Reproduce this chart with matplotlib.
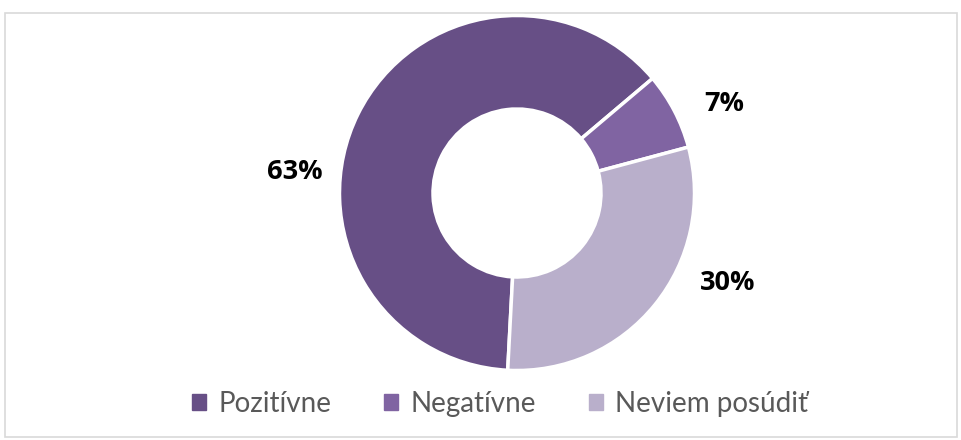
import matplotlib
matplotlib.use("Agg")
import matplotlib.pyplot as plt
from matplotlib.patches import Rectangle

categories = ["Pozitívne", "Negatívne", "Neviem posúdiť"]
values = [63, 7, 30]
labels = ["63%", "7%", "30%"]
colors = ["#674F86", "#8064A2", "#B9AFCB"]

W, H = 961, 440
fig = plt.figure(figsize=(W / 100, H / 100), dpi=100)
ax = fig.add_axes([0, 0, 1, 1])

# chart frame
ax.add_patch(Rectangle((4.5, 3.5), 952, 424, fill=False, edgecolor="#D9D9D9", lw=1.2))

cx, cy = 517, H - 193
R = 177.5
wedges, _ = ax.pie(values, colors=colors, startangle=267, counterclock=False,
                   radius=R, center=(cx, cy), frame=True,
                   wedgeprops=dict(width=R - 84, edgecolor="white", linewidth=2.5))
ax.set_xlim(0, W)
ax.set_ylim(0, H)
ax.set_aspect("equal")
ax.axis("off")

label_pos = [(295, 172), (724, 104), (728, 283)]
for (x, y), t in zip(label_pos, labels):
    ax.text(x, H - y, t, ha="center", va="center", fontsize=19.5,
            fontweight="bold", family="Open Sans", color="black")

handles = [Rectangle((0, 0), 1, 1, color=c) for c in colors]
leg = fig.legend(handles, categories, loc="center", bbox_to_anchor=(500 / W, 1 - 404 / H),
                 ncol=3, frameon=False, prop=dict(family="Lato", size=20),
                 handlelength=0.5, handleheight=0.5, handletextpad=0.45, columnspacing=1.9)
for t in leg.get_texts():
    t.set_color("#595959")

fig.savefig("out.png", dpi=100)
